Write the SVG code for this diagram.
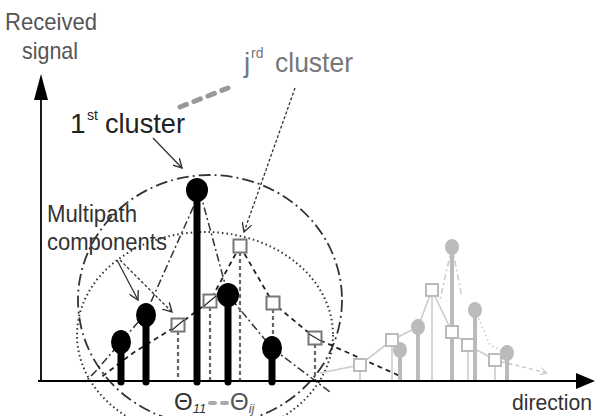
<svg xmlns="http://www.w3.org/2000/svg" width="595" height="416" viewBox="0 0 595 416">
<defs>
<marker id="open" viewBox="0 0 10 10" refX="9" refY="5" markerWidth="10" markerHeight="10" markerUnits="userSpaceOnUse" orient="auto">
<path d="M0,0 L9,5 L0,10" fill="none" stroke="#333" stroke-width="1.4"/>
</marker>
<marker id="openGray" viewBox="0 0 10 10" refX="9" refY="5" markerWidth="8" markerHeight="8" markerUnits="userSpaceOnUse" orient="auto">
<path d="M0,0 L9,5 L0,10" fill="none" stroke="#ccc" stroke-width="1.4"/>
</marker>
</defs>
<style>
text{font-family:"Liberation Sans",Arial,sans-serif}
.lbl{font-size:23px;fill:#333}
.stem{stroke:#000;stroke-width:7;stroke-linecap:round}
.head{fill:#000}
.box{fill:#fff;stroke:#777;stroke-width:2}
.dstem{stroke:#666;stroke-width:2.2;stroke-dasharray:4 3}
.gstem{stroke:#bbb;stroke-width:4}
.ghead{fill:#bbb}
.gbox{fill:#fff;stroke:#bbb;stroke-width:2}
.gline{stroke:#ccc;stroke-width:1.6;fill:none}
.env1{fill:none;stroke:#333;stroke-width:1.5;stroke-dasharray:8 3 2 3}
.envj{fill:none;stroke:#222;stroke-width:1.8;stroke-dasharray:5 4}
.arr{fill:none;stroke:#333;stroke-width:1.3;marker-end:url(#open)}
</style>
<rect width="595" height="416" fill="#fff"/>

<g id="clusters">
<ellipse id="cluster1-ellipse" cx="210" cy="300" rx="132" ry="125" fill="none" stroke="#333" stroke-width="1.8" stroke-dasharray="12 4 2 4"/>
<ellipse id="clusterj-ellipse" cx="205" cy="335" rx="128" ry="103" fill="none" stroke="#333" stroke-width="2" stroke-dasharray="1.5 3"/>
</g>

<g id="connectors">
<path class="env1" d="M200,192 L146,313 L121,342 L95,372 L85,382"/>
<path class="env1" d="M200,192 L228,295 L272,348 L330,392"/>
<path class="envj" d="M240,246 L210,301 L178,325 L133,353 L100,378"/>
<path class="envj" d="M240,246 L273,303 L315,338 L400,376"/>
<path class="arr" d="M153,138 L182,168"/>
<path class="arr" d="M295,88 L244,232" stroke-dasharray="3 2"/>
<path class="arr" d="M117,260 L138,300"/>
<path class="arr" d="M120,260 L172,312" stroke-dasharray="3 2"/>
<path d="M180,107 L228,88" stroke="#999" stroke-width="5" stroke-linecap="round" stroke-dasharray="7 8" fill="none"/>
<path d="M210,403 L228,403" stroke="#aaa" stroke-width="4" stroke-linecap="round" stroke-dasharray="5 7" fill="none"/>
</g>

<g id="cluster-j-components">
<line class="dstem" x1="178" y1="331" x2="178" y2="381"/>
<line class="dstem" x1="210" y1="307" x2="210" y2="381"/>
<line class="dstem" x1="240" y1="252" x2="240" y2="381"/>
<line class="dstem" x1="273" y1="309" x2="273" y2="381"/>
<line class="dstem" x1="315" y1="344" x2="315" y2="381"/>
<rect class="box" x="171.5" y="318.5" width="13" height="13"/>
<rect class="box" x="203.5" y="294.5" width="13" height="13"/>
<rect class="box" x="233.5" y="239.5" width="13" height="13"/>
<rect class="box" x="266.5" y="296.5" width="13" height="13"/>
<rect class="box" x="308.5" y="331.5" width="13" height="13"/>
<path d="M184,320 L172,330 M216,296 L204,306 M321,341 L309,334" stroke="#333" stroke-width="1.4" fill="none"/>
</g>

<g id="cluster-1-components">
<line class="stem" x1="121" y1="342" x2="121" y2="382"/>
<ellipse class="head" cx="121" cy="342" rx="10" ry="12"/>
<line class="stem" x1="146" y1="315" x2="146" y2="382"/>
<ellipse class="head" cx="146" cy="315" rx="10" ry="12"/>
<line class="stem" x1="197" y1="190" x2="197" y2="382"/>
<ellipse class="head" cx="197" cy="190" rx="11" ry="12"/>
<line class="stem" x1="228" y1="295" x2="228" y2="382"/>
<ellipse class="head" cx="228" cy="295" rx="11" ry="12"/>
<line class="stem" x1="272" y1="348" x2="272" y2="382"/>
<ellipse class="head" cx="272" cy="348" rx="10" ry="12"/>
</g>

<g id="cluster-2-gray">
<path class="gline" d="M320,373 L360,365 L392,340 L418,327 L432,290"/>
<path class="gline" d="M432,290 L452,332 L468,345 L495,360"/>
<path class="gline" d="M495,360 L547,373" stroke-dasharray="4 3" marker-end="url(#openGray)"/>
<path class="gline" d="M452,247 L440,300 M452,247 L462,297" stroke-dasharray="6 3 2 3"/>
<path class="gline" d="M475,310 L490,345 L507,353" stroke-dasharray="1.5 3"/>
<line class="gline" x1="360" y1="371" x2="360" y2="381"/>
<line class="gline" x1="392" y1="346" x2="392" y2="381"/>
<line class="gline" x1="432" y1="296" x2="432" y2="381"/>
<line class="gline" x1="452" y1="338" x2="452" y2="381"/>
<line class="gline" x1="468" y1="351" x2="468" y2="381"/>
<line class="gline" x1="495" y1="366" x2="495" y2="381"/>
<line class="gstem" x1="400" y1="350" x2="400" y2="381"/>
<ellipse class="ghead" cx="400" cy="350" rx="7" ry="8"/>
<line class="gstem" x1="418" y1="327" x2="418" y2="381"/>
<ellipse class="ghead" cx="418" cy="327" rx="7" ry="8"/>
<line class="gstem" x1="452" y1="247" x2="452" y2="381"/>
<ellipse class="ghead" cx="452" cy="247" rx="7" ry="8"/>
<line class="gstem" x1="475" y1="310" x2="475" y2="381"/>
<ellipse class="ghead" cx="475" cy="310" rx="7" ry="8"/>
<line class="gstem" x1="507" y1="353" x2="507" y2="381"/>
<ellipse class="ghead" cx="507" cy="353" rx="7" ry="8"/>
<rect class="gbox" x="354" y="359" width="12" height="12"/>
<rect class="gbox" x="386" y="334" width="12" height="12"/>
<rect class="gbox" x="426" y="284" width="12" height="12"/>
<rect class="gbox" x="446" y="326" width="12" height="12"/>
<rect class="gbox" x="462" y="339" width="12" height="12"/>
<rect class="gbox" x="489" y="354" width="12" height="12"/>
</g>

<g id="axes">
<line x1="41" y1="381" x2="41" y2="98" stroke="#000" stroke-width="1.8"/>
<polygon points="41,74 34,100 48,100" fill="#000"/>
<line x1="38" y1="381" x2="578" y2="381" stroke="#000" stroke-width="1.8"/>
<polygon points="595,381 576,373 576,389" fill="#000"/>
</g>

<g id="labels">
<text x="5" y="30" font-size="24" fill="#555" textLength="92" lengthAdjust="spacingAndGlyphs">Received</text>
<text x="22" y="59" font-size="24" fill="#555" textLength="56" lengthAdjust="spacingAndGlyphs">signal</text>
<text x="70" y="133" font-size="28" fill="#222">1</text>
<text x="87" y="120" font-size="14" fill="#222">st</text>
<text x="105" y="133" font-size="28" fill="#222" textLength="80" lengthAdjust="spacingAndGlyphs">cluster</text>
<text x="244" y="72" font-size="28" fill="#777">j</text>
<text x="251" y="58" font-size="14" fill="#777">rd</text>
<text x="275" y="72" font-size="28" fill="#777" textLength="78" lengthAdjust="spacingAndGlyphs">cluster</text>
<text class="lbl" x="47" y="222" textLength="90" lengthAdjust="spacingAndGlyphs">Multipath</text>
<text class="lbl" x="47" y="250" textLength="120" lengthAdjust="spacingAndGlyphs">components</text>
<text x="512" y="410" font-size="22" fill="#333" textLength="80" lengthAdjust="spacingAndGlyphs">direction</text>
<text x="174" y="410" font-size="24" fill="#333">Θ<tspan font-size="13" font-style="italic" dy="3">11</tspan></text>
<text x="230" y="410" font-size="24" fill="#555">Θ<tspan font-size="13" font-style="italic" dy="3">ij</tspan></text>
</g>
</svg>
